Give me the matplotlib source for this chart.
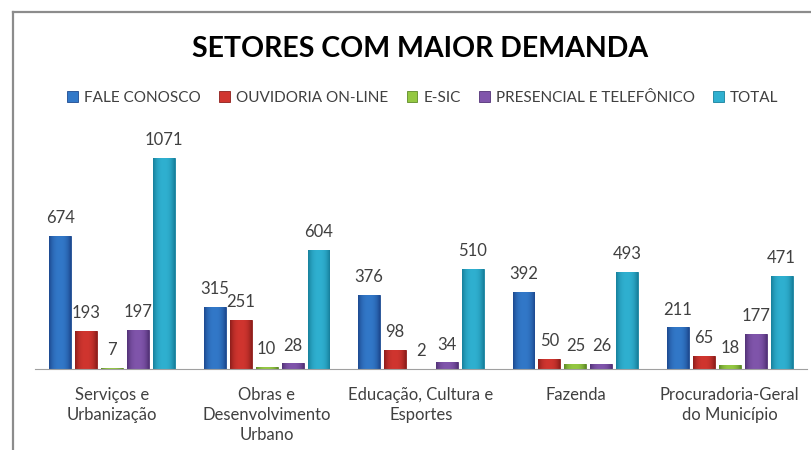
import matplotlib

matplotlib.use("Agg")

import matplotlib.pyplot as plt
import numpy as np
from matplotlib.colors import to_rgb
from matplotlib.lines import Line2D
from matplotlib.patches import Patch

categories = [
    "Serviços e\nUrbanização",
    "Obras e\nDesenvolvimento\nUrbano",
    "Educação, Cultura e\nEsportes",
    "Fazenda",
    "Procuradoria-Geral\ndo Município",
]
series_names = ["FALE CONOSCO", "OUVIDORIA ON-LINE", "E-SIC", "PRESENCIAL E TELEFÔNICO", "TOTAL"]
fale_conosco = [674, 315, 376, 392, 211]
ouvidoria = [193, 251, 98, 50, 65]
esic = [7, 10, 2, 25, 18]
presencial = [197, 28, 34, 26, 177]
total = [1071, 604, 510, 493, 471]

colors = ["#3278c8", "#d0352f", "#94c842", "#8055ab", "#2fb0d0"]
edges = ["#1d4a90", "#8e1e1b", "#5e8a28", "#533277", "#17809c"]

plt.rcParams["font.family"] = ["Lato", "DejaVu Sans"]

W, H = 811, 450
fig = plt.figure(figsize=(W / 100, H / 100), dpi=100)

# chart area border (only left and top are visible in the crop)
fig.add_artist(Line2D([13 / W, 13 / W], [0, 1 - 12 / H], color="#8c8c8c", lw=1.6))
fig.add_artist(Line2D([13 / W, 1], [1 - 12 / H, 1 - 12 / H], color="#8c8c8c", lw=1.6))

ax = fig.add_axes([35 / W, (H - 369) / H, 772 / W, 236.4 / H])
ax.set_xlim(-0.5, 4.5)
ax.set_ylim(0, 1200)

t = np.linspace(0, 1, 40)
shade = 1 - np.abs(2 * t - 1) ** 2.5


def cylinder(bar, c, e):
    c, e = np.array(to_rgb(c)), np.array(to_rgb(e))
    img = e + (c - e) * shade[:, None]
    x0, y0 = bar.get_x(), bar.get_y()
    im = ax.imshow(img[None, :, :], extent=[x0, x0 + bar.get_width(), y0, y0 + bar.get_height()],
                   aspect="auto", interpolation="bilinear", zorder=2.5)
    im.set_clip_path(bar)


x = np.arange(len(categories))
step = 0.168
bw = 0.142
all_series = [fale_conosco, ouvidoria, esic, presencial, total]
for i, vals in enumerate(all_series):
    xs = x + (i - 2) * step
    bars = ax.bar(xs, vals, width=bw, color=colors[i], edgecolor=edges[i], lw=0.6,
                  label=series_names[i], zorder=2)
    for b in bars:
        cylinder(b, colors[i], edges[i])
    for xi, v in zip(xs, vals):
        ax.annotate(str(v), (xi, v), xytext=(0, 7), textcoords="offset points",
                    ha="center", va="bottom", fontsize=12, color="#404040")

ax.set_xlim(-0.5, 4.5)
ax.set_ylim(0, 1200)
for s in ["top", "right", "left"]:
    ax.spines[s].set_visible(False)
ax.spines["bottom"].set_color("#a0a0a0")
ax.spines["bottom"].set_zorder(3)
ax.set_yticks([])
ax.set_xticks(x)
ax.set_xticklabels(categories, fontsize=12, color="#404040", linespacing=1.3)
ax.tick_params(axis="x", length=0, pad=13)

fig.text(420 / W, 1 - 49 / H, "SETORES COM MAIOR DEMANDA", ha="center", va="center",
         fontsize=20.5, fontweight="bold", color="#000000")

handles = [Patch(facecolor=c, edgecolor=e, lw=0.6) for c, e in zip(colors, edges)]
fig.legend(handles, series_names, loc="center", bbox_to_anchor=(423 / W, 1 - 98 / H),
           ncol=5, frameon=False, fontsize=11, handlelength=0.7, handleheight=0.7,
           handletextpad=0.4, columnspacing=1.2, labelcolor="#404040")

fig.savefig("out.png", dpi=100)
